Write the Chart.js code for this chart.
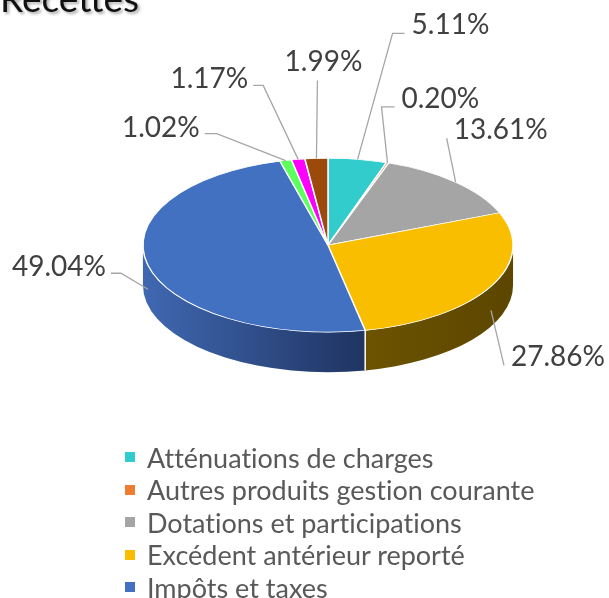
<!DOCTYPE html>
<html>
<head>
<meta charset="utf-8">
<script src="https://cdn.jsdelivr.net/npm/chart.js@4.4.1/dist/chart.umd.min.js"></script>
<style>
  html, body { margin: 0; padding: 0; background: #fff; overflow: hidden; }
  #wrap { position: relative; width: 609px; height: 598px; overflow: hidden; }
  #box { position: absolute; left: 0; top: 0; width: 656px; height: 598px; }
  #legend { position: absolute; left: 125px; top: 441px; margin: 0; padding: 0; list-style: none;
            font-family: Lato, sans-serif; font-size: 27px; color: #595959;
            font-variant-ligatures: none; font-feature-settings: "liga" 0, "clig" 0; }
  #legend li { height: 32.5px; display: flex; align-items: center; white-space: nowrap; }
  #legend .sw { width: 10px; height: 10px; margin-right: 12px; flex: none; }
</style>
</head>
<body>
<div id="wrap">
  <div id="box"><canvas id="myChart"></canvas></div>
  <ul id="legend"></ul>
</div>
<script>
const categories = [
    'Atténuations de charges',
    'Autres produits gestion courante',
    'Dotations et participations',
    'Excédent antérieur reporté',
    'Impôts et taxes',
    'Opérations d\'ordre',
    'Produits exceptionnels',
    'Produits des services'
];
const shares = [5.11, 0.20, 13.61, 27.86, 49.04, 1.02, 1.17, 1.99];

const sliceColors = ['#33CCCC', '#ED7D31', '#A5A5A5', '#FABE00', '#4371C2', '#5CFF5C', '#FF00FF', '#9B4A0C'];
// side wall shading, left -> right
const sideColors = [
    ['#238f8f', '#1a6b6b'], ['#a5571f', '#7c4117'], ['#747474', '#575757'], ['#6C5300', '#5C4600'],
    ['#4068B2', '#1F3461'], ['#40b340', '#308630'], ['#b300b3', '#860086'], ['#6d3409', '#522707']
];
// leader line elbow (from slice anchor), horizontal tail, text side
const labelLayout = [
    {dx: 35, dy: -126, h: 12, side: 'right'},
    {dx: -6, dy: -56, h: 13, side: 'right'},
    {dx: -9, dy: -44, h: 0, side: 'right'},
    {dx: 13, dy: 55, h: 0, side: 'right'},
    {dx: -27, dy: -16, h: -10, side: 'left'},
    {dx: -69, dy: -27, h: -12, side: 'left'},
    {dx: -35, dy: -74, h: -10, side: 'left'},
    {dx: 1, dy: -78, h: 0, side: 'top'}
];

const depth = 40;
const tilt = 0.47;

const pie3d = {
    id: 'pie3d',
    beforeDraw(chart) {
        const ctx = chart.ctx;
        ctx.save();
        ctx.shadowColor = 'rgba(0,0,0,0.35)';
        ctx.shadowBlur = 3;
        ctx.shadowOffsetX = 2;
        ctx.shadowOffsetY = 2;
    },
    beforeDatasetsDraw(chart) {
        const ctx = chart.ctx;
        ctx.restore();
        const arcs = chart.getDatasetMeta(0).data;
        const {x: cx, y: cy, outerRadius: r} = arcs[0];
        // side walls (front half only)
        arcs.forEach((arc, i) => {
            const a1 = Math.max(arc.startAngle, 0);
            const a2 = Math.min(arc.endAngle, Math.PI);
            if (a2 <= a1) return;
            const xl = cx + r * Math.cos(a2), xr = cx + r * Math.cos(a1);
            const g = ctx.createLinearGradient(xl, 0, xr, 0);
            g.addColorStop(0, sideColors[i][0]);
            g.addColorStop(1, sideColors[i][1]);
            ctx.beginPath();
            ctx.ellipse(cx, cy, r, r * tilt, 0, a1, a2);
            ctx.ellipse(cx, cy + depth, r, r * tilt, 0, a2, a1, true);
            ctx.closePath();
            ctx.fillStyle = g;
            ctx.fill();
        });
        ctx.strokeStyle = '#ffffff';
        ctx.lineWidth = 1.5;
        arcs.forEach(arc => {
            const a = arc.startAngle;
            if (a > 0 && a < Math.PI) {
                const x = cx + r * Math.cos(a), y = cy + r * tilt * Math.sin(a);
                ctx.beginPath();
                ctx.moveTo(x, y);
                ctx.lineTo(x, y + depth);
                ctx.stroke();
            }
        });
        // squash the top face
        ctx.save();
        ctx.translate(0, cy);
        ctx.scale(1, tilt);
        ctx.translate(0, -cy);
    },
    afterDatasetsDraw(chart) {
        const ctx = chart.ctx;
        ctx.restore();
        const arcs = chart.getDatasetMeta(0).data;
        const {x: cx, y: cy, outerRadius: r} = arcs[0];
        const values = chart.data.datasets[0].data;
        const total = values.reduce((a, b) => a + b, 0);
        ctx.save();
        ctx.font = '28px Lato';
        ctx.fillStyle = '#404040';
        ctx.strokeStyle = '#A6A6A6';
        ctx.lineWidth = 1.3;
        ctx.textBaseline = 'middle';
        arcs.forEach((arc, i) => {
            const mid = (arc.startAngle + arc.endAngle) / 2;
            const ax = cx + r * Math.cos(mid);
            let ay = cy + r * tilt * Math.sin(mid);
            if (Math.sin(mid) > 0.2) ay += depth * 0.6;
            const L = labelLayout[i];
            const ex = ax + L.dx, ey = ay + L.dy;
            ctx.beginPath();
            ctx.moveTo(ax, ay);
            ctx.lineTo(ex, ey);
            if (L.h) ctx.lineTo(ex + L.h, ey);
            ctx.stroke();
            const txt = (values[i] / total * 100).toFixed(2) + '%';
            if (L.side === 'right') {
                ctx.textAlign = 'left';
                ctx.fillText(txt, ex + L.h + 7, ey - 8);
            } else if (L.side === 'left') {
                ctx.textAlign = 'right';
                ctx.fillText(txt, ex + L.h - 5, ey - 6);
            } else {
                ctx.textAlign = 'center';
                ctx.fillText(txt, ex + 6, ey - 18);
            }
        });
        ctx.restore();
    }
};

const ctx = document.getElementById('myChart').getContext('2d');
const myChart = new Chart(ctx, {
    type: 'pie',
    data: {
        labels: categories,
        datasets: [{
            data: shares,
            backgroundColor: sliceColors,
            borderColor: '#ffffff',
            borderWidth: 1.5,
            clip: false
        }]
    },
    options: {
        responsive: true,
        maintainAspectRatio: false,
        animation: false,
        events: [],
        layout: {
            padding: {left: 0, right: 0, top: 0, bottom: 167}
        },
        plugins: {
            legend: {display: false},
            tooltip: {enabled: false},
            title: {
                display: true,
                text: 'Recettes',
                align: 'start',
                color: '#111111',
                font: {family: 'Lato', size: 37, weight: 'normal'},
                padding: {top: -22, bottom: 37}
            }
        }
    },
    plugins: [pie3d]
});

// legend as html list, built from the chart's own legend items
const items = myChart.options.plugins.legend.labels.generateLabels(myChart);
const ul = document.getElementById('legend');
items.forEach(it => {
    const li = document.createElement('li');
    const sw = document.createElement('span');
    sw.className = 'sw';
    sw.style.background = it.fillStyle;
    li.appendChild(sw);
    li.appendChild(document.createTextNode(it.text));
    ul.appendChild(li);
});
</script>
</body>
</html>
